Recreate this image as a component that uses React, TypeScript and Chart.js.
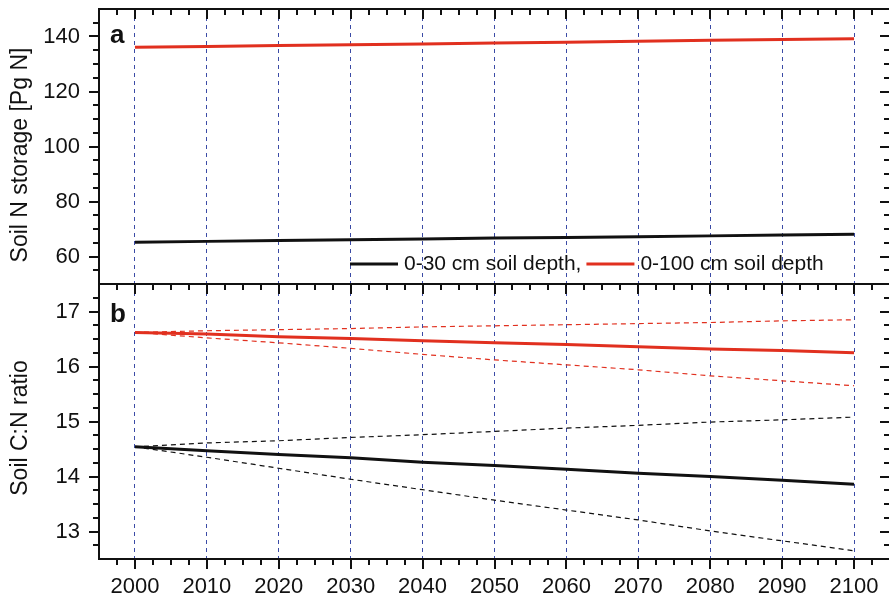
import { useEffect, useRef } from 'react';
import { Chart, registerables } from 'chart.js';

Chart.register(...registerables);

// ---- data ----
const YEARS = [2000, 2010, 2020, 2030, 2040, 2050, 2060, 2070, 2080, 2090, 2100];

// panel a: soil N storage [Pg N]
const N_0_30 = [65.2, 65.5, 65.8, 66.1, 66.4, 66.7, 66.9, 67.2, 67.5, 67.8, 68.1];
const N_0_100 = [136.1, 136.4, 136.7, 137.0, 137.3, 137.6, 137.9, 138.3, 138.6, 138.9, 139.2];

// panel b: soil C:N ratio
const CN_0_30 = [14.54, 14.47, 14.4, 14.34, 14.26, 14.2, 14.13, 14.06, 14.0, 13.93, 13.86];
const CN_0_30_HI = [14.54, 14.61, 14.65, 14.71, 14.76, 14.82, 14.88, 14.93, 14.99, 15.03, 15.08];
const CN_0_30_LO = [14.54, 14.35, 14.15, 13.95, 13.76, 13.57, 13.39, 13.21, 13.01, 12.83, 12.65];
const CN_0_100 = [16.62, 16.59, 16.54, 16.51, 16.47, 16.43, 16.4, 16.36, 16.32, 16.29, 16.25];
const CN_0_100_HI = [16.62, 16.65, 16.67, 16.69, 16.72, 16.74, 16.76, 16.78, 16.8, 16.83, 16.85];
const CN_0_100_LO = [16.62, 16.52, 16.43, 16.33, 16.22, 16.12, 16.03, 15.94, 15.83, 15.74, 15.65];

// axes
const X_RANGE = [1995, 2105];
const X_TICKS = [2000, 2010, 2020, 2030, 2040, 2050, 2060, 2070, 2080, 2090, 2100];
const X_MINOR = 2.5;
const N_RANGE = [50, 150];
const N_TICKS = [60, 80, 100, 120, 140];
const N_MINOR = 5;
const CN_RANGE = [12.5, 17.5];
const CN_TICKS = [13, 14, 15, 16, 17];
const CN_MINOR = 0.25;

const TITLE_A = 'Soil N storage [Pg N]';
const TITLE_B = 'Soil C:N ratio';
const LEGEND_LABELS = ['0-30 cm soil depth,', '0-100 cm soil depth'];

// ---- styles ----
const FONT = '"Liberation Sans", Arial, Helvetica, sans-serif';
const INK = '#111111';
const RED = '#e1301f';
const GRID = '#3b4ba6';
const W = 900;
const H = 597;

const pts = (ys: number[]) => YEARS.map((x, i) => ({ x, y: ys[i] }));

const solid = (label: string, ys: number[], color: string) => ({
  label,
  data: pts(ys),
  borderColor: color,
  backgroundColor: color,
  borderWidth: 3,
  pointRadius: 0,
  tension: 0,
  fill: false,
});
const dashed = (label: string, ys: number[], color: string) => ({
  label,
  data: pts(ys),
  borderColor: color,
  backgroundColor: color,
  borderWidth: 1.2,
  borderDash: [5, 4],
  pointRadius: 0,
  tension: 0,
  fill: false,
});

type DecorOpts = {
  panel: string;
  panelDy: number;
  title: string;
  titleY: number;
  yMinor: number;
  yTicks: number[];
  legend: boolean;
};

const decor = (o: DecorOpts) => ({
  id: 'decor',
  afterDraw(chart: any) {
    const { ctx, chartArea: a } = chart;
    const xs = chart.scales.x;
    const ys = chart.scales.y;
    const seg = (x1: number, y1: number, x2: number, y2: number) => {
      ctx.beginPath();
      ctx.moveTo(x1, y1);
      ctx.lineTo(x2, y2);
      ctx.stroke();
    };
    ctx.save();
    ctx.setLineDash([]);
    ctx.strokeStyle = INK;
    ctx.lineWidth = 2;
    ctx.strokeRect(a.left, a.top, a.right - a.left, a.bottom - a.top);

    // x ticks (pointing down on both edges)
    const nx = Math.round((X_RANGE[1] - X_RANGE[0]) / X_MINOR);
    for (let i = 1; i < nx; i++) {
      const v = X_RANGE[0] + i * X_MINOR;
      const major = X_TICKS.some((t) => Math.abs(t - v) < 1e-6);
      const len = major ? 10 : 6;
      const px = Math.round(xs.getPixelForValue(v));
      seg(px, a.top, px, a.top + len);
      seg(px, a.bottom, px, a.bottom + len);
    }
    // y ticks: outward on left, inward on right
    const ny = Math.round((ys.max - ys.min) / o.yMinor);
    for (let i = 1; i < ny; i++) {
      const v = ys.min + i * o.yMinor;
      const major = o.yTicks.some((t) => Math.abs(t - v) < 1e-6);
      const len = major ? 10 : 6;
      const py = Math.round(ys.getPixelForValue(v));
      seg(a.left, py, a.left - len, py);
      seg(a.right, py, a.right - len, py);
    }

    // axis title
    ctx.save();
    ctx.translate(21, o.titleY);
    ctx.rotate(-Math.PI / 2);
    ctx.fillStyle = INK;
    ctx.font = `23px ${FONT}`;
    ctx.textAlign = 'center';
    ctx.textBaseline = 'middle';
    ctx.fillText(o.title, 0, 0);
    ctx.restore();

    // panel letter
    ctx.fillStyle = INK;
    ctx.font = `bold 26px ${FONT}`;
    ctx.textAlign = 'left';
    ctx.textBaseline = 'alphabetic';
    ctx.fillText(o.panel, a.left + 11, a.top + o.panelDy);

    // legend
    if (o.legend) {
      const colors = [INK, RED];
      ctx.font = `21px ${FONT}`;
      ctx.textBaseline = 'middle';
      let x = a.left + 251;
      const y = a.bottom - 20;
      LEGEND_LABELS.forEach((t, i) => {
        ctx.strokeStyle = colors[i];
        ctx.lineWidth = 3;
        seg(x, y, x + 48, y);
        x += 54;
        ctx.fillStyle = INK;
        ctx.fillText(t, x, y);
        x += ctx.measureText(t).width + 5;
      });
    }
    ctx.restore();
  },
});

const setTicks = (vals: number[]) => (scale: any) => {
  scale.ticks = vals.map((value) => ({ value }));
};

const makeConfig = (top: boolean): any => {
  const xHeight = top ? H - 284 : H - 559;
  return {
    type: 'line',
    data: {
      datasets: top
        ? [solid('0-30', N_0_30, INK), solid('0-100', N_0_100, RED)]
        : [
            dashed('0-100 hi', CN_0_100_HI, RED),
            dashed('0-100 lo', CN_0_100_LO, RED),
            dashed('0-30 hi', CN_0_30_HI, INK),
            dashed('0-30 lo', CN_0_30_LO, INK),
            solid('0-100', CN_0_100, RED),
            solid('0-30', CN_0_30, INK),
          ],
    },
    options: {
      responsive: false,
      animation: false,
      devicePixelRatio: 1,
      layout: {
        autoPadding: false,
        padding: { left: 0, right: W - 890, top: top ? 9 : 284, bottom: 0 },
      },
      plugins: { legend: { display: false }, tooltip: { enabled: false } },
      scales: {
        x: {
          type: 'linear',
          min: X_RANGE[0],
          max: X_RANGE[1],
          afterBuildTicks: setTicks(X_TICKS),
          afterFit: (s: any) => {
            s.height = xHeight;
            s.paddingLeft = 0;
            s.paddingRight = 0;
          },
          grid: { display: true, color: GRID, lineWidth: 1, drawTicks: false },
          border: { display: false, dash: [4, 4] },
          ticks: {
            display: !top,
            autoSkip: false,
            maxRotation: 0,
            padding: 15,
            color: INK,
            font: { family: FONT, size: 22 },
            callback: (v: any) => String(v),
          },
        },
        y: {
          type: 'linear',
          min: top ? N_RANGE[0] : CN_RANGE[0],
          max: top ? N_RANGE[1] : CN_RANGE[1],
          afterBuildTicks: setTicks(top ? N_TICKS : CN_TICKS),
          afterFit: (s: any) => {
            s.width = 99;
            s.paddingTop = 0;
            s.paddingBottom = 0;
          },
          grid: { display: false, drawTicks: false },
          border: { display: false },
          ticks: {
            padding: 19,
            color: INK,
            font: { family: FONT, size: 22 },
            callback: (v: any) => String(v),
          },
        },
      },
    },
    plugins: [
      decor(
        top
          ? { panel: 'a', panelDy: 34, title: TITLE_A, titleY: 155, yMinor: N_MINOR, yTicks: N_TICKS, legend: true }
          : { panel: 'b', panelDy: 38, title: TITLE_B, titleY: 428, yMinor: CN_MINOR, yTicks: CN_TICKS, legend: false }
      ),
    ],
  };
};

export default function App() {
  const topRef = useRef<HTMLCanvasElement>(null);
  const botRef = useRef<HTMLCanvasElement>(null);

  useEffect(() => {
    const c1 = new Chart(botRef.current as HTMLCanvasElement, makeConfig(false));
    const c2 = new Chart(topRef.current as HTMLCanvasElement, makeConfig(true));
    return () => {
      c1.destroy();
      c2.destroy();
    };
  }, []);

  const cs: any = { position: 'absolute', left: 0, top: 0, width: W, height: H };
  return (
    <div
      style={{
        position: 'fixed',
        left: 0,
        top: 0,
        width: 889,
        height: 597,
        overflow: 'hidden',
        background: '#ffffff',
      }}
    >
      <canvas ref={botRef} width={W} height={H} style={cs} />
      <canvas ref={topRef} width={W} height={H} style={cs} />
    </div>
  );
}
